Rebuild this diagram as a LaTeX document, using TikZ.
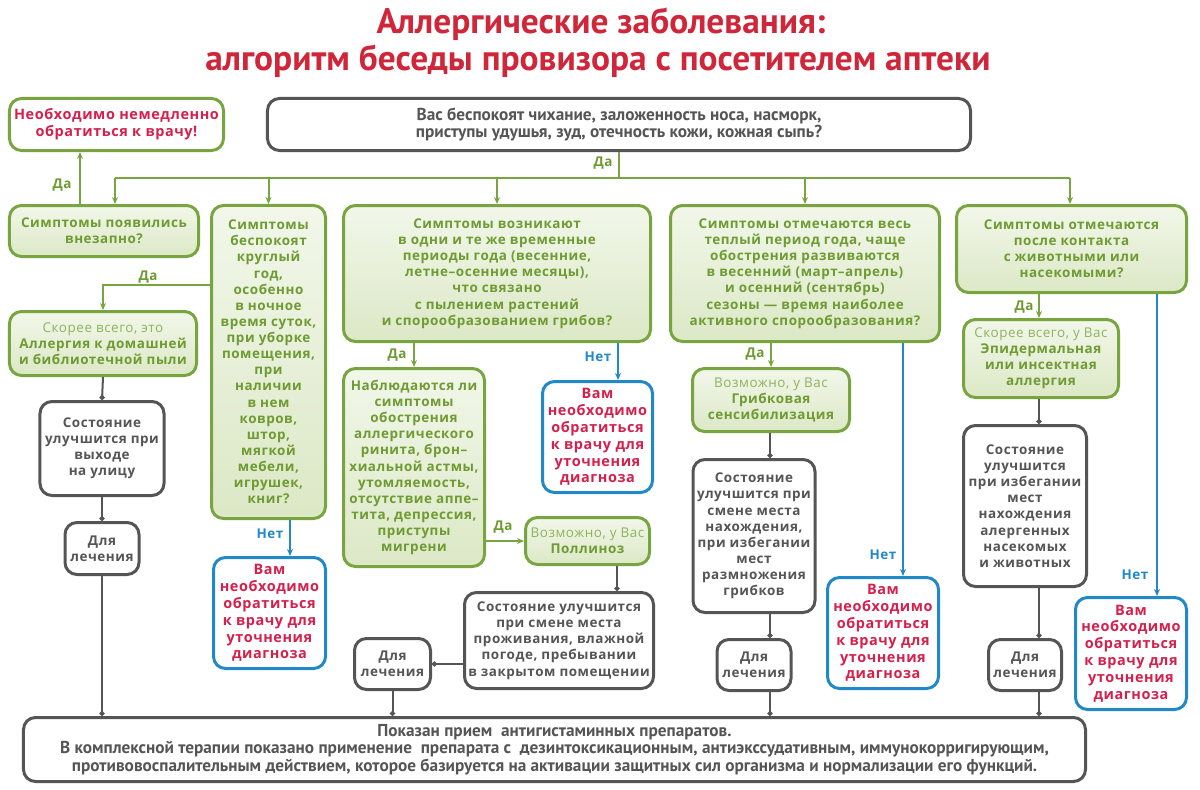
\documentclass[tikz,border=0pt]{standalone}
\usepackage{fontspec}
\setmainfont{Open Sans}
\newfontfamily\bodyf{Open Sans}[LetterSpace=4.0]
\newfontfamily\condf{PT Sans}
\newfontfamily\titlef{PT Sans}
\usetikzlibrary{arrows.meta}
\definecolor{gborder}{HTML}{78A540}
\definecolor{gtext}{HTML}{6E9B32}
\definecolor{glight}{HTML}{8DB35E}
\definecolor{gfillA}{HTML}{F2F7EA}
\definecolor{gfillB}{HTML}{DCE8C6}
\definecolor{redt}{HTML}{D4204C}
\definecolor{titler}{HTML}{D0263A}
\definecolor{bluel}{HTML}{2189C8}
\definecolor{darkg}{HTML}{555555}
\newcommand\bxn[6]{\node[#1, minimum width=#4bp-3bp, minimum height=#5bp-3bp] (#2) at (#3) {#6};}
\tikzset{
 box/.style={rounded corners=12bp, line width=3bp, align=center, inner sep=0pt, anchor=center},
 gbox/.style={box, draw=gborder, top color=gfillA, bottom color=gfillB, text=gtext, font=\bodyf\bfseries\fontsize{13.5}{16.2}\selectfont},
 dbox/.style={box, draw=darkg, fill=white, text=darkg, font=\bodyf\bfseries\fontsize{13.5}{16.2}\selectfont},
 bbox/.style={box, draw=bluel, fill=white, text=redt, font=\bodyf\bfseries\fontsize{14.5}{16.9}\selectfont},
 rbox/.style={box, draw=gborder, fill=white, text=redt, font=\bodyf\bfseries\fontsize{14.5}{17}\selectfont},
 cbox/.style={box, draw=darkg, fill=white, text=darkg, font=\condf\bfseries\fontsize{17.3}{17.5}\selectfont},
 titl/.style={text=titler, font=\titlef\bfseries\fontsize{35.5}{38}\selectfont, inner sep=0pt},
 glbl/.style={text=gtext, font=\bodyf\bfseries\fontsize{13.5}{15}\selectfont, inner sep=0pt},
 blbl/.style={text=bluel, font=\bodyf\bfseries\fontsize{13.5}{15}\selectfont, inner sep=0pt},
 gln/.style={draw=gborder, line width=2bp},
 garr/.style={draw=gborder, line width=2bp, -{Stealth[length=7bp,width=6bp]}},
 barr/.style={draw=bluel, line width=1.6bp, -{Stealth[length=7bp,width=6bp]}},
 dln/.style={draw=darkg, line width=2bp, -{Circle[length=5bp]}},
}
\begin{document}
\begin{tikzpicture}[x=1bp,y=-1bp]
\useasboundingbox[fill=white] (0,0) rectangle (1200,790);
% title
\node[titl] (ti1) at (601,24) {Аллергические заболевания:};
\node[titl] (ti2) at (598,61) {алгоритм беседы провизора с посетителем аптеки};
% top row
\bxn{rbox}{red}{116.5,124.5}{217}{55}{Необходимо немедленно\\обратиться к врачу!}
\bxn{cbox}{top}{619,124.5}{706}{55}{Вас беспокоят чихание, заложенность носа, насморк,\\приступы удушья, зуд, отечность кожи, кожная сыпь?}
% questions
\bxn{gbox}{q1}{104,231}{192}{54}{Симптомы появились\\внезапно?}
\bxn{gbox}{q2}{268.5,362}{117}{316}{Симптомы\\беспокоят\\круглый\\год,\\особенно\\в ночное\\время суток,\\при уборке\\помещения,\\при\\наличии\\в нем\\ковров,\\штор,\\мягкой\\мебели,\\игрушек,\\книг?}
\bxn{gbox}{q3}{497,273.5}{310}{139}{Симптомы возникают\\в одни и те же временные\\периоды года (весенние,\\летне–осенние месяцы),\\что связано\\с пылением растений\\и спорообразованием грибов?}
\bxn{gbox}{q4}{805,273.5}{272}{139}{Симптомы отмечаются весь\\теплый период года, чаще\\обострения развиваются\\в весенний (март–апрель)\\и осенний (сентябрь)\\сезоны — время наиболее\\активного спорообразования?}
\bxn{gbox}{q5}{1071.5,249}{233}{90}{Симптомы отмечаются\\после контакта\\с животными или\\насекомыми?}
% column 1
\bxn{gbox}{r1}{103,343.5}{190}{67}{{\mdseries\color{glight}Скорее всего, это}\\Аллергия к домашней\\и библиотечной пыли}
\bxn{dbox}{s1}{102,448.5}{127}{97}{Состояние\\улучшится при\\выходе\\на улицу}
\bxn{dbox}{t1}{102,548.5}{77}{55}{Для\\лечения}
\bxn{bbox}{b2}{269.5,613}{115}{114}{Вам\\необходимо\\обратиться\\к врачу для\\уточнения\\диагноза}
% column 3
\bxn{gbox}{q6}{414,467.5}{144}{201}{Наблюдаются ли\\симптомы\\обострения\\аллергического\\ринита, брон–\\хиальной астмы,\\утомляемость,\\отсутствие аппе–\\тита, депрессия,\\приступы\\мигрени}
\bxn{bbox}{b3}{597.5,437}{113}{114}{Вам\\необходимо\\обратиться\\к врачу для\\уточнения\\диагноза}
\bxn{gbox}{r2}{587.5,541}{127}{50}{{\mdseries\color{glight}Возможно, у Вас}\\Поллиноз}
\bxn{dbox}{s2}{559,640.5}{192}{99}{Состояние улучшится\\при смене места\\проживания, влажной\\погоде, пребывании\\в закрытом помещении}
\bxn{dbox}{t2}{392.5,664}{79}{54}{Для\\лечения}
% column 4
\bxn{gbox}{r3}{771,400}{160}{66}{{\mdseries\color{glight}Возможно, у Вас}\\Грибковая\\сенсибилизация}
\bxn{dbox}{s3}{754,536}{125}{156}{Состояние\\улучшится при\\смене места\\нахождения,\\при избегании\\мест\\размножения\\грибков}
\bxn{dbox}{t3}{754,665}{77}{54}{Для\\лечения}
\bxn{bbox}{b4}{883,633}{114}{114}{Вам\\необходимо\\обратиться\\к врачу для\\уточнения\\диагноза}
% column 5
\bxn{gbox}{r4}{1041,358.5}{158}{81}{{\mdseries\color{glight}Скорее всего, у Вас}\\Эпидермальная\\или инсектная\\аллергия}
\bxn{dbox}{s4}{1025,506}{126}{164}{Состояние\\улучшится\\при избегании\\мест\\нахождения\\алергенных\\насекомых\\и животных}
\bxn{dbox}{t4}{1025,665}{76}{54}{Для\\лечения}
\bxn{bbox}{b5}{1131,653.5}{114}{115}{Вам\\необходимо\\обратиться\\к врачу для\\уточнения\\диагноза}
% bottom
\bxn{cbox}{bot}{554.5,749.5}{1065}{67}{Показан прием \ антигистаминных препаратов.\\В комплексной терапии показано применение \ препарата с \ дезинтоксикационным, антиэкссудативным, иммунокорригирующим,\\противовоспалительным действием, которое базируется на активации защитных сил организма и нормализации его функций.}
% helper coordinates
\coordinate (hub) at (619,178);
\coordinate (hl) at (115,178);
\coordinate (hr) at (1070,178);
\coordinate (y285) at (0,285);
\coordinate (x80) at (80,0);
\coordinate (x290) at (290,0);
\coordinate (x618) at (618,0);
\coordinate (x617) at (617,0);
\coordinate (x770) at (770,0);
\coordinate (x903) at (903,0);
\coordinate (x1039) at (1039,0);
\coordinate (x1157) at (1157,0);
% top distribution
\draw[gln] (top.south -| hub) -- (hub);
\draw[gln] (hl) -- (hr);
\draw[garr] (hl) -- (hl |- q1.north);
\draw[garr] (q2.north |- hub) -- (q2.north);
\draw[garr] (q3.north |- hub) -- (q3.north);
\draw[garr] (q4.north |- hub) -- (q4.north);
\draw[garr] (hr) -- (hr |- q5.north);
\node[glbl] (da0) at (603,163) {Да};
% column 1
\draw[garr] (q1.north -| x80) -- (red.south -| x80);
\node[glbl] (da1) at (62,185) {Да};
\draw[garr] (q2.west |- y285) -| (r1.north);
\node[glbl] (da2) at (148,277) {Да};
\draw[dln] (r1.south) -- (s1.north);
\draw[dln] (s1.south) -- (t1.north);
\draw[dln] (t1.south) -- (t1.south |- bot.north);
\draw[barr] (q2.south -| x290) -- (b2.north -| x290);
\node[blbl] (net2) at (270,534) {Нет};
% column 3
\draw[garr] (q6.north |- q3.south) -- (q6.north);
\node[glbl] (da3) at (397,355) {Да};
\draw[barr] (q3.south -| x618) -- (b3.north -| x618);
\node[blbl] (net3) at (598,357) {Нет};
\draw[garr] (q6.east |- r2.west) -- (r2.west);
\node[glbl] (da4) at (503,527) {Да};
\draw[dln] (r2.south -| x617) -- (s2.north -| x617);
\draw[dln] (s2.west |- t2.east) -- (t2.east);
\draw[dln] (t2.south) -- (t2.south |- bot.north);
% column 4
\draw[garr] (r3.north |- q4.south) -- (r3.north);
\node[glbl] (da5) at (755,354) {Да};
\draw[dln] (r3.south -| x770) -- (s3.north -| x770);
\draw[dln] (s3.south -| x770) -- (t3.north -| x770);
\draw[dln] (t3.south -| x770) -- (bot.north -| x770);
\draw[barr] (q4.south -| x903) -- (b4.north -| x903);
\node[blbl] (net4) at (883,555) {Нет};
% column 5
\draw[garr] (q5.south -| x1039) -- (r4.north -| x1039);
\node[glbl] (da6) at (1024,307) {Да};
\draw[dln] (r4.south -| x1039) -- (s4.north -| x1039);
\draw[dln] (s4.south -| x1039) -- (t4.north -| x1039);
\draw[dln] (t4.south -| x1039) -- (bot.north -| x1039);
\draw[barr] (q5.south -| x1157) -- (b5.north -| x1157);
\node[blbl] (net5) at (1135,575) {Нет};
\end{tikzpicture}
\end{document}
